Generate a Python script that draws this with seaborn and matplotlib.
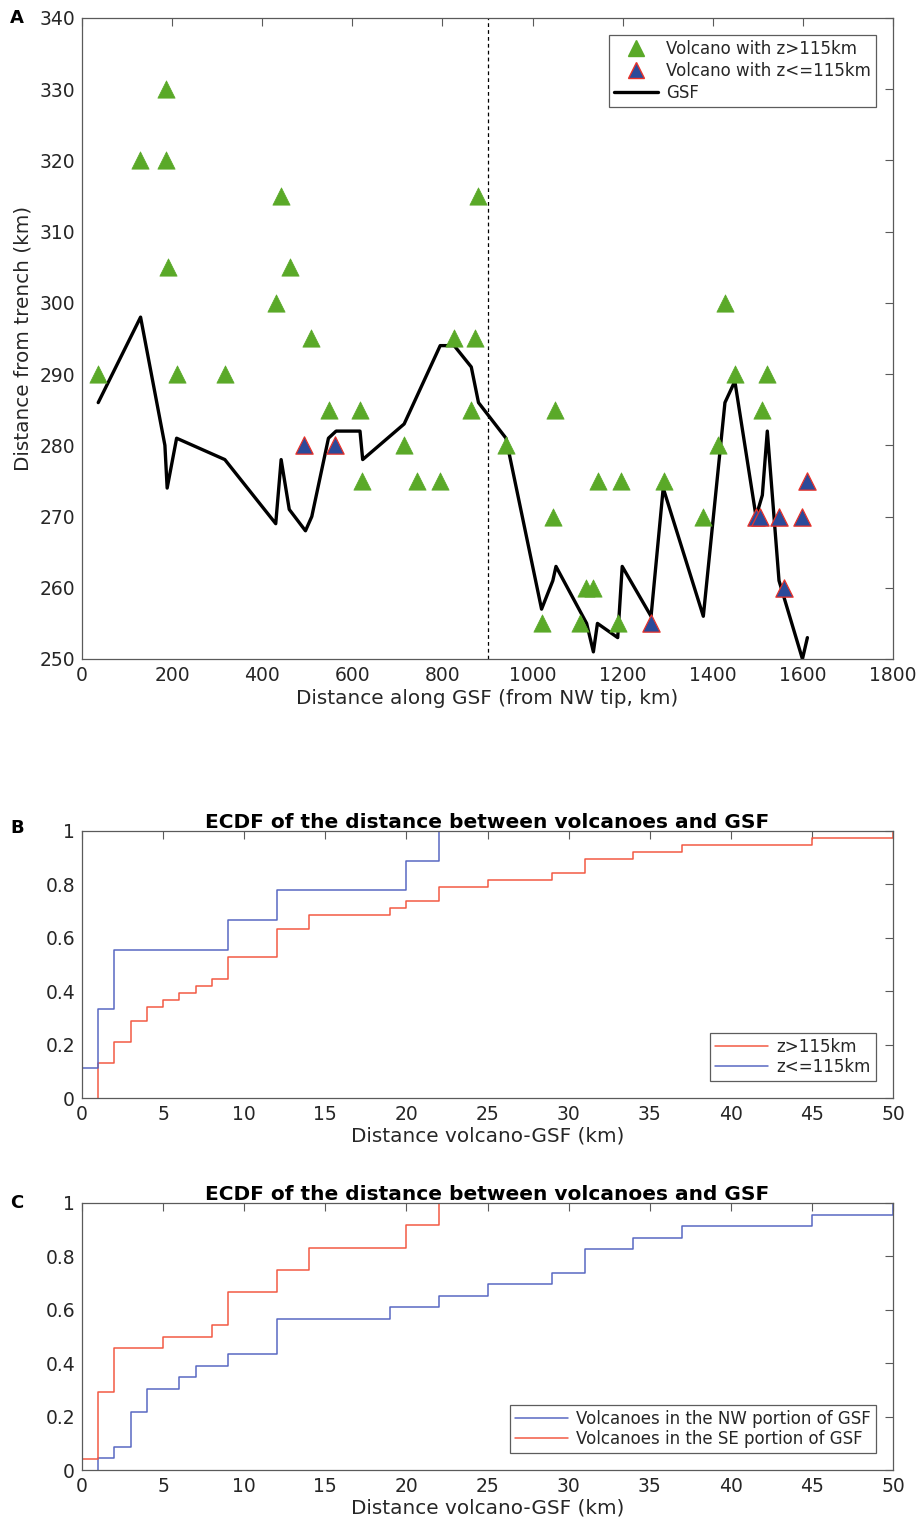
import matplotlib
matplotlib.use("Agg")
import matplotlib.pyplot as plt
import numpy as np
import pandas as pd
import seaborn as sns
from matplotlib.lines import Line2D
from matplotlib.ticker import FuncFormatter

# panel A: GSF trace (distance along GSF, distance from trench)
gsf_x = [36, 130, 184, 189, 210, 317, 430, 442, 460, 496, 510, 547, 564, 617, 623,
         715, 795, 826, 864, 880, 941, 1020, 1045, 1052, 1120, 1135, 1144, 1189,
         1199, 1263, 1290, 1379, 1427, 1449, 1496, 1510, 1521, 1547, 1599, 1610]
gsf_y = [286, 298, 280, 274, 281, 278, 269, 278, 271, 268, 270, 281, 282, 282, 278,
         283, 294, 294, 291, 286, 281, 257, 261, 263, 255, 251, 255, 253,
         263, 256, 274, 256, 286, 289, 270, 273, 282, 261, 250, 253]

# volcanoes with z>115km
deep_x = [36, 129, 186, 186, 191, 211, 317, 430, 442, 461, 508, 548, 617, 621, 715,
          744, 795, 826, 864, 873, 879, 941, 1021, 1045, 1050, 1119, 1134, 1105,
          1145, 1189, 1196, 1292, 1378, 1412, 1427, 1449, 1509, 1520]
deep_y = [290, 320, 330, 320, 305, 290, 290, 300, 315, 305, 295, 285, 285, 275, 280,
          275, 275, 295, 285, 295, 315, 280, 255, 270, 285, 260, 260, 255,
          275, 255, 275, 275, 270, 280, 300, 290, 285, 290]

# volcanoes with z<=115km
shallow_x = [493, 562, 1262, 1497, 1504, 1548, 1557, 1598, 1610]
shallow_y = [280, 280, 255, 270, 270, 270, 260, 270, 275]

# panel B: distance volcano-GSF (km) by depth class
dist_deep = ([1] * 5 + [2] * 3 + [3] * 3 + [4] * 2 + [5, 6, 7, 8] + [9] * 3 + [12] * 4
             + [14] * 2 + [19, 20] + [22] * 2 + [25, 29] + [31] * 2 + [34, 37, 45, 50])
dist_shallow = [0, 1, 1, 2, 2, 9, 12, 20, 22]

# panel C: distance volcano-GSF (km) by GSF portion
dist_nw = ([1, 2] + [3] * 3 + [4] * 2 + [6, 7, 9] + [12] * 3 + [19, 22, 25, 29]
           + [31] * 2 + [34, 37, 45, 50])
dist_se = [0] + [1] * 6 + [2] * 4 + [5, 8] + [9] * 3 + [12] * 2 + [14] * 2 + [20] * 2 + [22] * 2

GREEN = "#5aa928"
NAVY = "#2b4a9a"
RED = "#f25a44"
BLUE = "#5868c2"
SPINE = "#5a5a5a"
TXT = "#262626"

sns.set_style("white")
plt.rcParams["font.family"] = ["DejaVu Sans"]
plt.rcParams["text.color"] = TXT
plt.rcParams["axes.labelcolor"] = TXT
plt.rcParams["xtick.color"] = SPINE
plt.rcParams["ytick.color"] = SPINE
plt.rcParams["xtick.labelcolor"] = TXT
plt.rcParams["ytick.labelcolor"] = TXT

fig = plt.figure(figsize=(9.21, 15.25), dpi=100)
left, width = 82 / 921, 811 / 921
ax_a = fig.add_axes([left, 1 - 659 / 1525, width, 641 / 1525])
ax_b = fig.add_axes([left, 1 - 1098 / 1525, width, 267 / 1525])
ax_c = fig.add_axes([left, 1 - 1470 / 1525, width, 267 / 1525])

LABEL_FS = 14.4


def style_axes(ax, fs=13.5):
    for s in ax.spines.values():
        s.set_color(SPINE)
        s.set_linewidth(0.9)
    ax.tick_params(direction="in", length=6, width=0.8, top=True, right=True,
                   labelsize=fs, pad=5)


# ---- panel A
sns.lineplot(x=gsf_x, y=gsf_y, sort=False, color="black", linewidth=2.4, ax=ax_a)
sns.scatterplot(x=deep_x, y=deep_y, marker="^", s=155, color=GREEN,
                edgecolor=GREEN, linewidth=0.5, ax=ax_a, zorder=3)
sns.scatterplot(x=shallow_x, y=shallow_y, marker="^", s=155, color=NAVY,
                edgecolor="#e8322a", linewidth=0.9, ax=ax_a, zorder=3)
ax_a.axvline(900, color="black", linestyle=(0, (3, 2.5)), linewidth=0.9)
ax_a.set_xlim(0, 1800)
ax_a.set_ylim(250, 340)
ax_a.set_xticks(np.arange(0, 1801, 200))
ax_a.set_yticks(np.arange(250, 341, 10))
ax_a.set_xlabel("Distance along GSF (from NW tip, km)", fontsize=LABEL_FS, labelpad=3)
ax_a.set_ylabel("Distance from trench (km)", fontsize=LABEL_FS, labelpad=5)
style_axes(ax_a)
handles = [
    Line2D([], [], linestyle="none", marker="^", markersize=12, color=GREEN),
    Line2D([], [], linestyle="none", marker="^", markersize=12,
           markerfacecolor=NAVY, markeredgecolor="#e8322a"),
    Line2D([], [], color="black", linewidth=2.4),
]
leg = ax_a.legend(handles, ["Volcano with z>115km", "Volcano with z<=115km", "GSF"],
                  loc="upper right", bbox_to_anchor=(0.979, 0.973), fontsize=12,
                  frameon=True, fancybox=False, handlelength=2.6, borderpad=0.3,
                  labelspacing=0.22, handletextpad=0.5, borderaxespad=0)
leg.get_frame().set_edgecolor("#333333")
leg.get_frame().set_linewidth(0.9)

# ---- panels B and C
fmt = FuncFormatter(lambda v, _: f"{v:g}")
title = "ECDF of the distance between volcanoes and GSF"

sns.ecdfplot(x=dist_deep, color=RED, linewidth=1.1, ax=ax_b, label="z>115km")
sns.ecdfplot(x=dist_shallow, color=BLUE, linewidth=1.1, ax=ax_b, label="z<=115km")
sns.ecdfplot(x=dist_nw, color=BLUE, linewidth=1.1, ax=ax_c,
             label="Volcanoes in the NW portion of GSF")
sns.ecdfplot(x=dist_se, color=RED, linewidth=1.1, ax=ax_c,
             label="Volcanoes in the SE portion of GSF")

for ax in (ax_b, ax_c):
    ax.set_xlim(0, 50)
    ax.set_ylim(0, 1)
    ax.set_xticks(np.arange(0, 51, 5))
    ax.set_yticks(np.arange(0, 1.01, 0.2))
    ax.yaxis.set_major_formatter(fmt)
    ax.set_xlabel("Distance volcano-GSF (km)", fontsize=LABEL_FS, labelpad=2)
    ax.set_ylabel("")
    ax.set_title(title, fontsize=14.5, fontweight="bold", color="black", pad=2)
    style_axes(ax)
    lg = ax.legend(loc="lower right", bbox_to_anchor=(0.979, 0.064), fontsize=12,
                   frameon=True, fancybox=False, handlelength=3.2, borderpad=0.3,
                   labelspacing=0.12, handletextpad=0.5, borderaxespad=0)
    lg.get_frame().set_edgecolor("#333333")
    lg.get_frame().set_linewidth(0.9)

# panel letters
fig.text(10 / 921, 1 - 18 / 1525, "A", fontsize=13, fontweight="bold",
         color="black", va="center")
fig.text(10 / 921, 1 - 828 / 1525, "B", fontsize=13, fontweight="bold",
         color="black", va="center")
fig.text(10 / 921, 1 - 1203 / 1525, "C", fontsize=13, fontweight="bold",
         color="black", va="center")

fig.savefig("out.png", dpi=100, facecolor="white")
